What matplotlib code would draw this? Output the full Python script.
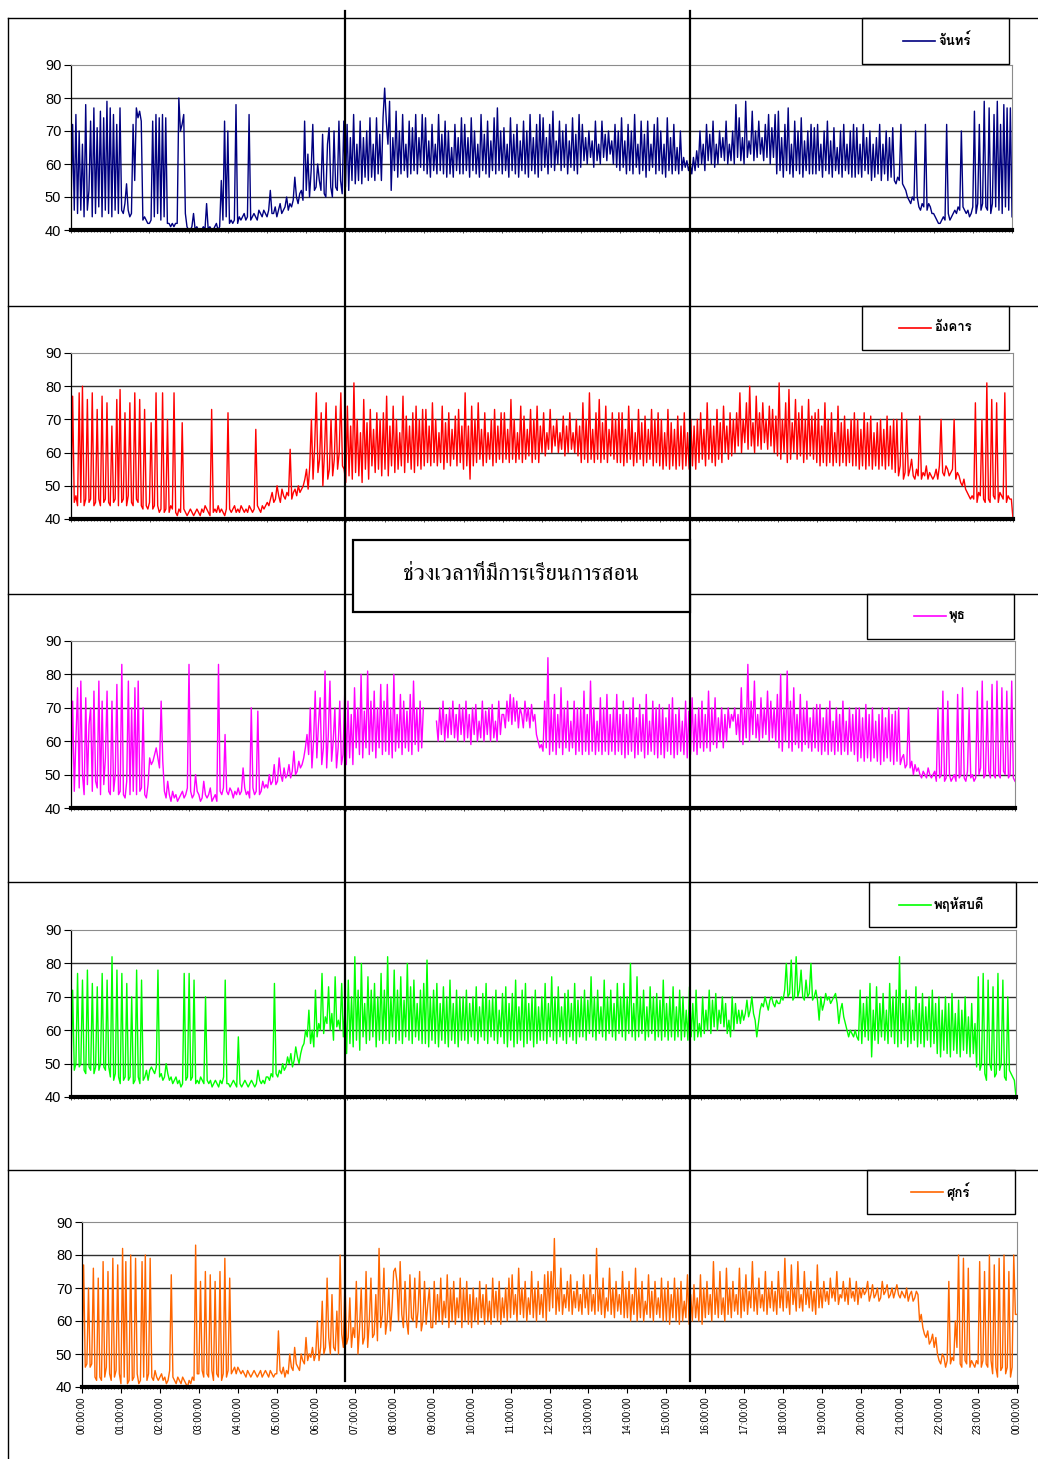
import numpy as np
import matplotlib
matplotlib.use("Agg")
import matplotlib.pyplot as plt
from matplotlib import font_manager
from matplotlib.ft2font import FT2Font
from matplotlib.lines import Line2D
from matplotlib.patches import Rectangle

# Sound level readings every 2.5 minutes, one row per hour, last value is 24:00
mon = [
    47, 72, 46, 75, 45, 70, 46, 66, 44, 78, 46, 52, 73, 44, 77, 45, 71, 47, 76, 44, 74, 46, 79, 45,
    77, 44, 75, 46, 72, 45, 77, 46, 45, 48, 54, 46, 44, 45, 72, 55, 77, 74, 76, 73, 43, 44, 43, 42,
    42, 43, 73, 44, 75, 45, 74, 43, 75, 44, 74, 42, 42, 41, 42, 41, 42, 42, 80, 70, 72, 75, 45, 41,
    40, 40, 41, 45, 40, 41, 40, 40, 40, 41, 40, 48, 40, 41, 40, 40, 41, 42, 40, 41, 55, 43, 73, 44,
    70, 42, 43, 42, 43, 78, 42, 44, 43, 44, 45, 43, 44, 75, 43, 44, 45, 44, 43, 46, 45, 44, 46, 45,
    44, 46, 52, 45, 45, 47, 44, 46, 48, 45, 46, 47, 50, 46, 48, 47, 49, 56, 50, 48, 51, 52, 49, 73,
    52, 63, 50, 58, 72, 52, 53, 60, 55, 52, 69, 51, 50, 66, 71, 53, 50, 70, 53, 52, 73, 55, 51, 73,
    53, 72, 52, 68, 55, 75, 54, 66, 55, 73, 54, 68, 56, 70, 55, 74, 56, 66, 55, 74, 57, 69, 55, 74,
    83, 73, 66, 79, 52, 68, 58, 76, 56, 70, 57, 75, 58, 66, 56, 73, 57, 71, 58, 75, 57, 68, 59, 75,
    58, 74, 57, 67, 56, 72, 58, 66, 57, 75, 58, 69, 57, 73, 56, 70, 57, 65, 56, 72, 58, 68, 57, 74,
    57, 72, 58, 68, 56, 74, 58, 70, 57, 66, 56, 75, 58, 69, 57, 73, 56, 67, 58, 74, 57, 77, 58, 70,
    57, 71, 58, 66, 56, 74, 58, 69, 57, 72, 56, 67, 58, 73, 57, 70, 56, 75, 58, 68, 57, 72, 56, 75,
    58, 74, 59, 68, 57, 72, 59, 76, 58, 67, 60, 73, 58, 70, 59, 72, 57, 67, 59, 74, 58, 69, 57, 75,
    59, 72, 61, 68, 60, 70, 62, 67, 59, 73, 61, 66, 60, 73, 62, 69, 61, 70, 63, 67, 60, 72, 59, 70,
    58, 74, 59, 67, 57, 72, 58, 70, 57, 75, 59, 66, 57, 73, 58, 69, 56, 73, 58, 66, 59, 72, 57, 74,
    58, 70, 57, 66, 56, 74, 58, 68, 57, 72, 58, 65, 57, 70, 58, 62, 59, 61, 58, 60, 57, 62, 58, 64,
    59, 70, 60, 66, 58, 72, 61, 69, 60, 73, 59, 66, 60, 70, 62, 68, 61, 73, 60, 66, 61, 70, 60, 78,
    62, 74, 61, 68, 60, 79, 62, 67, 63, 76, 61, 70, 62, 73, 63, 68, 61, 72, 62, 75, 60, 71, 62, 75,
    57, 76, 58, 68, 56, 72, 58, 77, 57, 66, 56, 73, 58, 70, 57, 74, 56, 67, 58, 70, 57, 72, 57, 71,
    57, 72, 58, 66, 56, 70, 58, 73, 57, 67, 56, 71, 58, 65, 57, 70, 56, 72, 58, 66, 57, 70, 56, 72,
    56, 71, 57, 66, 56, 72, 58, 68, 57, 70, 55, 66, 56, 68, 57, 72, 55, 66, 57, 70, 55, 68, 56, 71,
    55, 54, 56, 55, 72, 54, 53, 52, 50, 49, 48, 50, 49, 70, 50, 47, 46, 48, 47, 72, 46, 48, 47, 45,
    45, 44, 43, 42, 42, 43, 44, 43, 72, 45, 43, 44, 45, 46, 45, 47, 46, 70, 47, 46, 45, 46, 44, 45,
    47, 76, 45, 48, 72, 46, 48, 79, 47, 46, 77, 45, 48, 75, 47, 79, 46, 72, 45, 78, 47, 77, 46, 77,
    44,
]

tue = [
    46, 77, 45, 47, 44, 78, 45, 80, 44, 46, 76, 45, 46, 78, 44, 45, 73, 46, 44, 77, 45, 46, 75, 45,
    44, 68, 45, 46, 76, 44, 79, 45, 46, 72, 44, 47, 75, 45, 44, 78, 46, 45, 76, 44, 43, 73, 44, 43,
    45, 69, 43, 44, 78, 44, 42, 43, 78, 42, 43, 70, 42, 44, 43, 78, 42, 41, 43, 42, 69, 43, 42, 41,
    42, 43, 42, 41, 42, 43, 42, 41, 43, 42, 44, 43, 42, 41, 73, 42, 43, 42, 44, 42, 43, 42, 41, 43,
    72, 43, 42, 43, 44, 42, 43, 42, 44, 43, 42, 43, 42, 44, 43, 42, 43, 67, 44, 43, 42, 44, 43, 44,
    45, 44, 46, 48, 45, 46, 50, 47, 45, 49, 47, 46, 48, 47, 61, 46, 48, 49, 47, 50, 48, 49, 50, 52,
    55, 49, 56, 70, 52, 62, 78, 54, 58, 72, 50, 60, 75, 52, 55, 70, 53, 58, 74, 55, 60, 78, 56, 55,
    51, 74, 53, 68, 52, 81, 54, 70, 53, 66, 51, 76, 55, 69, 52, 73, 56, 67, 54, 72, 55, 70, 53, 72,
    55, 77, 53, 68, 56, 74, 54, 70, 55, 66, 56, 77, 54, 71, 57, 68, 55, 72, 54, 74, 56, 70, 55, 73,
    56, 73, 57, 68, 56, 75, 57, 70, 56, 66, 57, 74, 55, 69, 57, 72, 56, 67, 58, 71, 56, 73, 57, 68,
    55, 78, 56, 68, 52, 74, 56, 70, 57, 75, 58, 67, 56, 72, 57, 66, 58, 70, 56, 73, 57, 68, 58, 72,
    57, 72, 58, 67, 57, 76, 58, 70, 57, 66, 58, 74, 57, 71, 58, 67, 59, 73, 57, 70, 58, 74, 57, 68,
    60, 72, 59, 66, 61, 73, 60, 68, 62, 70, 60, 66, 61, 71, 59, 68, 60, 72, 61, 66, 60, 70, 59, 68,
    57, 75, 58, 70, 57, 78, 58, 67, 57, 72, 58, 76, 57, 69, 58, 74, 57, 67, 59, 72, 58, 70, 57, 72,
    57, 72, 56, 67, 57, 74, 58, 70, 56, 66, 57, 73, 58, 69, 56, 71, 57, 67, 58, 73, 56, 70, 57, 72,
    56, 70, 55, 66, 56, 73, 55, 69, 56, 67, 55, 71, 56, 68, 55, 72, 56, 66, 55, 70, 56, 68, 55, 70,
    57, 72, 58, 67, 56, 75, 58, 70, 57, 68, 56, 73, 58, 69, 57, 74, 60, 68, 58, 72, 59, 70, 60, 72,
    62, 78, 60, 70, 63, 75, 61, 80, 62, 69, 60, 77, 62, 72, 61, 75, 63, 70, 61, 74, 62, 73, 60, 71,
    59, 81, 58, 70, 60, 75, 57, 79, 58, 69, 60, 76, 58, 72, 59, 74, 57, 70, 58, 76, 59, 71, 58, 72,
    57, 73, 56, 68, 57, 75, 56, 70, 57, 72, 56, 66, 57, 74, 56, 69, 57, 71, 56, 67, 57, 70, 56, 72,
    56, 70, 55, 67, 56, 72, 55, 69, 56, 71, 55, 66, 56, 69, 55, 70, 56, 67, 55, 71, 56, 68, 55, 70,
    54, 70, 53, 56, 72, 52, 54, 70, 53, 55, 58, 53, 52, 55, 53, 71, 52, 54, 53, 56, 52, 54, 53, 52,
    53, 55, 52, 56, 70, 54, 53, 56, 55, 53, 54, 55, 70, 52, 54, 53, 51, 50, 52, 49, 48, 47, 46, 47,
    46, 75, 45, 48, 47, 70, 46, 45, 81, 46, 45, 76, 47, 46, 75, 45, 48, 47, 46, 78, 45, 47, 46, 46,
    40,
]

# no readings from 09:00 to about 09:15 on Wednesday
wed = [
    47, 72, 45, 60, 76, 46, 78, 50, 44, 73, 47, 65, 70, 45, 75, 48, 46, 78, 44, 72, 47, 55, 75, 45,
    44, 72, 45, 50, 77, 44, 45, 83, 44, 43, 48, 78, 44, 70, 45, 76, 44, 78, 45, 46, 70, 44, 43, 47,
    55, 53, 54, 56, 58, 55, 52, 72, 54, 45, 43, 48, 44, 42, 45, 43, 44, 42, 43, 44, 45, 43, 44, 46,
    83, 45, 43, 44, 50, 45, 44, 42, 43, 48, 44, 43, 44, 46, 42, 43, 44, 42, 83, 45, 44, 46, 62, 45,
    44, 46, 45, 43, 45, 44, 46, 44, 45, 52, 46, 44, 45, 43, 70, 46, 44, 45, 69, 44, 45, 48, 46, 47,
    46, 50, 47, 48, 53, 47, 48, 55, 50, 48, 52, 49, 50, 53, 49, 51, 57, 50, 51, 54, 52, 53, 55, 58,
    62, 56, 70, 52, 60, 75, 55, 65, 73, 53, 58, 81, 52, 62, 78, 54, 60, 70, 52, 58, 72, 53, 56, 74,
    53, 72, 55, 68, 53, 76, 58, 70, 56, 80, 55, 69, 58, 81, 56, 72, 57, 75, 55, 70, 58, 77, 56, 72,
    57, 77, 56, 70, 55, 80, 57, 68, 58, 74, 56, 72, 58, 69, 57, 74, 56, 78, 59, 70, 57, 72, 58, 70,
    None, None, None, None, None, None, None, 66, 60, 70, 62, 72, 60, 68, 61, 70, 62, 72, 61, 68, 60, 71, 62, 70,
    60, 72, 61, 68, 59, 70, 62, 71, 60, 66, 61, 72, 60, 69, 62, 70, 60, 71, 61, 66, 60, 72, 62, 68,
    68, 64, 72, 66, 74, 65, 73, 66, 72, 64, 70, 68, 64, 72, 66, 70, 64, 71, 66, 68, 62, 60, 58, 59,
    57, 72, 58, 85, 56, 70, 57, 74, 56, 68, 58, 76, 56, 70, 58, 72, 57, 66, 58, 72, 56, 70, 57, 70,
    56, 75, 57, 68, 56, 78, 57, 70, 56, 66, 57, 73, 56, 70, 57, 74, 56, 68, 57, 70, 56, 74, 57, 68,
    56, 72, 55, 68, 56, 70, 57, 73, 55, 67, 56, 71, 57, 68, 55, 74, 56, 66, 57, 72, 56, 70, 55, 71,
    56, 70, 55, 67, 57, 71, 56, 73, 55, 68, 56, 70, 57, 66, 56, 72, 55, 69, 56, 73, 57, 68, 56, 70,
    58, 72, 57, 68, 58, 75, 57, 70, 59, 73, 58, 67, 60, 70, 58, 68, 60, 70, 64, 68, 66, 70, 62, 68,
    60, 76, 59, 70, 61, 83, 60, 72, 62, 78, 61, 68, 60, 73, 61, 70, 62, 75, 60, 72, 61, 70, 60, 74,
    58, 80, 57, 70, 60, 81, 58, 72, 57, 76, 59, 68, 58, 74, 57, 70, 59, 72, 58, 67, 57, 70, 58, 71,
    57, 71, 56, 67, 57, 70, 56, 72, 57, 66, 56, 70, 57, 68, 56, 72, 57, 66, 56, 70, 57, 68, 56, 70,
    54, 70, 55, 67, 54, 71, 55, 68, 54, 70, 55, 66, 54, 68, 53, 70, 54, 67, 55, 70, 54, 68, 53, 69,
    54, 70, 53, 55, 56, 52, 53, 70, 52, 54, 50, 53, 51, 52, 50, 49, 51, 50, 49, 52, 50, 49, 50, 51,
    48, 70, 49, 50, 75, 48, 49, 72, 50, 48, 49, 50, 48, 74, 49, 50, 76, 49, 48, 51, 70, 49, 50, 48,
    49, 75, 50, 52, 78, 49, 50, 72, 51, 49, 77, 50, 49, 78, 50, 49, 76, 51, 50, 75, 49, 50, 78, 49,
    48,
]

thu = [
    49, 72, 48, 50, 77, 49, 50, 75, 48, 47, 78, 49, 48, 74, 47, 49, 73, 48, 50, 77, 49, 48, 75, 49,
    46, 82, 45, 47, 78, 46, 44, 77, 45, 46, 74, 45, 46, 70, 44, 45, 78, 46, 44, 75, 45, 46, 48, 45,
    48, 49, 48, 47, 49, 78, 46, 47, 45, 46, 50, 47, 45, 46, 44, 45, 46, 44, 45, 43, 44, 77, 45, 46,
    77, 45, 46, 75, 44, 45, 44, 46, 45, 44, 70, 45, 44, 45, 43, 44, 45, 44, 43, 45, 44, 46, 75, 44,
    44, 43, 44, 45, 44, 43, 58, 44, 43, 44, 45, 44, 43, 44, 45, 44, 43, 44, 48, 45, 44, 45, 44, 46,
    46, 45, 47, 46, 74, 47, 46, 48, 47, 50, 48, 49, 52, 50, 53, 49, 51, 55, 52, 50, 53, 55, 56, 60,
    58, 66, 56, 60, 55, 72, 58, 62, 60, 77, 59, 64, 62, 73, 60, 65, 57, 76, 61, 63, 60, 74, 58, 66,
    53, 75, 56, 70, 55, 82, 57, 72, 54, 80, 58, 68, 56, 76, 57, 72, 58, 74, 55, 70, 57, 77, 56, 72,
    57, 82, 56, 70, 58, 78, 56, 72, 57, 76, 56, 69, 58, 80, 57, 73, 56, 75, 58, 68, 57, 72, 56, 74,
    56, 81, 55, 70, 57, 72, 56, 74, 55, 68, 57, 73, 56, 70, 55, 75, 57, 68, 56, 72, 55, 70, 57, 70,
    57, 72, 56, 68, 58, 70, 57, 73, 56, 67, 58, 71, 57, 74, 56, 69, 58, 70, 57, 72, 56, 66, 58, 71,
    56, 73, 55, 68, 57, 71, 55, 75, 56, 67, 57, 72, 55, 74, 56, 68, 57, 70, 55, 72, 56, 67, 57, 70,
    57, 74, 56, 68, 58, 76, 57, 70, 56, 73, 58, 67, 57, 71, 56, 72, 58, 68, 57, 74, 56, 69, 58, 70,
    58, 72, 57, 69, 59, 76, 58, 70, 57, 72, 59, 67, 58, 75, 57, 70, 59, 72, 58, 68, 57, 74, 59, 70,
    58, 74, 57, 70, 59, 80, 58, 68, 57, 76, 58, 70, 59, 72, 57, 67, 58, 73, 59, 70, 57, 71, 58, 69,
    57, 75, 58, 68, 57, 70, 58, 73, 57, 67, 58, 72, 57, 70, 58, 66, 57, 73, 58, 68, 57, 72, 58, 62,
    58, 70, 59, 66, 60, 72, 59, 69, 61, 71, 60, 66, 62, 70, 61, 68, 59, 63, 58, 70, 60, 68, 62, 66,
    62, 66, 63, 65, 69, 64, 66, 70, 65, 63, 58, 62, 66, 68, 67, 70, 68, 66, 69, 70, 68, 67, 69, 68,
    68, 70, 69, 72, 80, 70, 71, 81, 69, 70, 82, 70, 72, 78, 70, 69, 75, 70, 71, 80, 69, 70, 72, 69,
    63, 70, 66, 68, 71, 69, 70, 68, 69, 70, 71, 68, 62, 66, 68, 64, 62, 60, 58, 60, 59, 58, 60, 58,
    57, 72, 56, 68, 58, 70, 57, 74, 52, 66, 57, 73, 56, 68, 58, 71, 57, 66, 56, 74, 58, 70, 56, 72,
    55, 82, 56, 68, 57, 72, 55, 70, 56, 66, 57, 73, 55, 68, 56, 71, 55, 67, 57, 70, 55, 72, 56, 68,
    53, 70, 52, 66, 54, 70, 53, 68, 52, 71, 54, 65, 53, 69, 52, 66, 54, 70, 53, 64, 52, 68, 53, 62,
    49, 76, 48, 50, 77, 47, 45, 75, 50, 48, 73, 46, 47, 77, 48, 50, 75, 46, 45, 70, 48, 47, 46, 45,
    40,
]

fri = [
    48, 77, 46, 47, 70, 46, 47, 76, 43, 42, 73, 43, 42, 78, 43, 46, 75, 44, 42, 79, 43, 45, 77, 44,
    41, 82, 43, 78, 41, 42, 80, 42, 43, 79, 44, 41, 42, 78, 43, 80, 42, 44, 79, 43, 42, 45, 43, 42,
    43, 44, 42, 43, 41, 42, 45, 74, 43, 42, 41, 43, 42, 41, 43, 42, 41, 40, 42, 41, 43, 42, 83, 44,
    44, 72, 45, 43, 75, 44, 43, 74, 45, 42, 72, 44, 43, 75, 42, 44, 79, 43, 45, 73, 44, 45, 46, 44,
    46, 45, 44, 45, 44, 43, 45, 44, 43, 44, 45, 44, 43, 44, 45, 43, 44, 45, 44, 43, 45, 44, 43, 44,
    44, 57, 45, 44, 46, 43, 45, 44, 50, 46, 45, 52, 47, 46, 45, 50, 48, 47, 55, 48, 50, 49, 52, 48,
    50, 60, 48, 52, 66, 50, 52, 73, 55, 50, 68, 52, 51, 63, 50, 80, 56, 52, 72, 53, 55, 67, 52, 58,
    55, 72, 50, 58, 70, 53, 55, 75, 52, 60, 73, 55, 56, 68, 54, 82, 58, 62, 76, 56, 60, 70, 57, 64,
    75, 76, 72, 60, 78, 62, 58, 72, 60, 56, 74, 61, 60, 73, 58, 63, 75, 57, 60, 72, 59, 65, 70, 58,
    58, 72, 59, 68, 60, 73, 59, 66, 61, 74, 58, 70, 60, 72, 59, 67, 61, 73, 58, 70, 60, 72, 59, 68,
    58, 70, 60, 67, 59, 72, 61, 68, 59, 71, 60, 66, 59, 73, 61, 69, 60, 72, 59, 67, 61, 70, 60, 73,
    61, 74, 62, 68, 60, 76, 62, 70, 61, 72, 60, 67, 62, 75, 61, 70, 60, 72, 62, 68, 61, 74, 60, 75,
    63, 75, 64, 85, 62, 70, 63, 76, 62, 68, 64, 72, 63, 74, 62, 69, 64, 72, 63, 68, 62, 74, 64, 70,
    62, 74, 63, 68, 62, 82, 63, 70, 62, 73, 61, 67, 63, 76, 62, 70, 61, 72, 63, 68, 62, 75, 61, 70,
    61, 72, 60, 68, 62, 76, 60, 70, 61, 72, 60, 66, 62, 74, 61, 69, 60, 72, 62, 67, 61, 73, 60, 70,
    60, 72, 59, 68, 61, 73, 60, 70, 59, 72, 60, 66, 61, 74, 59, 68, 60, 71, 61, 67, 60, 74, 59, 70,
    61, 72, 62, 68, 60, 78, 62, 70, 61, 75, 62, 67, 60, 76, 62, 70, 61, 72, 63, 68, 62, 76, 61, 70,
    63, 74, 62, 69, 64, 78, 63, 70, 62, 73, 64, 68, 63, 75, 62, 70, 64, 72, 63, 69, 62, 75, 64, 70,
    63, 79, 64, 69, 62, 77, 65, 70, 63, 78, 64, 68, 63, 75, 65, 70, 64, 72, 63, 69, 62, 77, 64, 70,
    64, 72, 66, 69, 65, 73, 67, 70, 66, 75, 65, 68, 67, 72, 66, 70, 65, 73, 67, 69, 66, 72, 65, 70,
    67, 70, 68, 69, 72, 66, 68, 71, 67, 68, 70, 66, 67, 72, 68, 69, 71, 67, 68, 70, 67, 69, 71, 68,
    67, 69, 68, 67, 70, 66, 68, 69, 66, 67, 69, 68, 60, 62, 58, 56, 55, 57, 53, 54, 56, 52, 55, 50,
    48, 47, 50, 49, 46, 48, 72, 47, 49, 48, 60, 52, 80, 47, 46, 79, 48, 47, 76, 46, 48, 47, 46, 48,
    47, 78, 46, 48, 75, 47, 46, 80, 48, 44, 77, 46, 43, 79, 45, 46, 80, 44, 46, 75, 43, 46, 80, 62,
    62,
]

days = ["จันทร์", "อังคาร", "พุธ", "พฤหัสบดี", "ศุกร์"]
series = [mon, tue, wed, thu, fri]
colors = ["#000080", "#FF0000", "#FF00FF", "#00FF00", "#FF6600"]
hour_labels = ["%02d:00:00" % (h % 24) for h in range(25)]
note = "ช่วงเวลาที่มีการเรียนการสอน"

W, H = 1038, 1459


def fx(x):
    return x / W


def fy(y):
    return 1 - y / H


def thai_families():
    # every installed family that has Thai letters in it
    found = []
    for entry in font_manager.fontManager.ttflist:
        try:
            cmap = FT2Font(entry.fname).get_charmap()
        except Exception:
            continue
        if 0x0E08 in cmap and entry.name not in found:
            found.append(entry.name)
    return found


thai = thai_families()
serif_thai = [f for f in thai if "Serif" in f or f in ("Norasi", "Kinnari", "Garuda")]
sans_thai = [f for f in thai if f not in serif_thai]
plt.rcParams["font.family"] = ["Liberation Sans"] + sans_thai + serif_thai + ["DejaVu Sans"]

fig = plt.figure(figsize=(W / 100, H / 100), dpi=100)

# plot areas in pixels: left, top, right, bottom
boxes = [
    (71, 65, 1012, 230),
    (71, 353, 1013, 519),
    (71, 641, 1015, 808),
    (71, 930, 1016, 1097),
    (82, 1222, 1017, 1387),
]
# legend frames and where the sample line starts
legend_boxes = [
    (862, 18, 1009, 64, 903),
    (862, 306, 1009, 350, 899),
    (867, 594, 1014, 639, 914),
    (869, 882, 1016, 927, 899),
    (867, 1170, 1015, 1214, 911),
]

for i, (vals, color, (l, t, r, b)) in enumerate(zip(series, colors, boxes)):
    ax = fig.add_axes([fx(l), fy(b), fx(r) - fx(l), fy(t) - fy(b)])
    y = np.array(vals, dtype=float)
    minutes = np.linspace(0, 1440, len(y))
    for g in (50, 60, 70, 80):
        ax.axhline(g, color="#303030", lw=1.0, zorder=1)
    ax.plot(minutes, y, color=color, lw=1.0, zorder=2)
    ax.set_xlim(0, 1440)
    ax.set_ylim(40, 90)
    ax.set_yticks(range(40, 91, 10))
    ax.tick_params(axis="y", direction="out", length=5, width=0.8, labelsize=10.5, pad=2)
    ax.set_xticks(range(0, 1441, 60))
    ax.set_xticks(range(0, 1441, 5), minor=True)
    ax.tick_params(axis="x", which="minor", direction="out", length=1.5, width=0.5)
    if i == 4:
        ax.set_xticklabels(hour_labels, rotation=90, fontsize=7)
        ax.tick_params(axis="x", which="major", direction="out", length=4, width=0.8, pad=3)
    else:
        ax.set_xticklabels([])
        ax.tick_params(axis="x", which="major", direction="out", length=2, width=0.5)
    ax.spines["top"].set_color("#8c8c8c")
    ax.spines["right"].set_color("#8c8c8c")
    ax.spines["left"].set_linewidth(0.9)
    ax.spines["bottom"].set_linewidth(3.0)

    # legend frame with a short sample line
    lx0, ly0, lx1, ly1, sx = legend_boxes[i]
    fig.add_artist(Rectangle((fx(lx0), fy(ly1)), fx(lx1) - fx(lx0), fy(ly0) - fy(ly1),
                             transform=fig.transFigure, fill=False, ec="black", lw=1.0))
    cy = fy((ly0 + ly1) / 2)
    fig.add_artist(Line2D([fx(sx), fx(sx + 32)], [cy, cy], transform=fig.transFigure,
                          color=color, lw=1.2))
    fig.text(fx(sx + 35), cy, days[i], ha="left", va="center", fontsize=9.5,
             fontweight="bold", family=sans_thai + ["DejaVu Sans"])

# chart frames around each day
for yy in (18, 306, 594, 882, 1170):
    fig.add_artist(Line2D([fx(8), 1.0], [fy(yy), fy(yy)], transform=fig.transFigure,
                          color="black", lw=1.0))
fig.add_artist(Line2D([fx(8), fx(8)], [fy(18), 0.0], transform=fig.transFigure,
                      color="black", lw=1.0))

# teaching hours markers
for xx in (345, 690):
    fig.add_artist(Line2D([fx(xx), fx(xx)], [fy(11), fy(1381)], transform=fig.transFigure,
                          color="black", lw=1.6, zorder=5))

fig.add_artist(Rectangle((fx(353), fy(612)), fx(690) - fx(353), fy(540) - fy(612),
                         transform=fig.transFigure, fc="white", ec="black", lw=1.6, zorder=6))
fig.text(fx(521), fy(574), note, ha="center", va="center", fontsize=16.5, zorder=7,
         family=serif_thai + sans_thai + ["DejaVu Sans"])

fig.savefig("out.png", dpi=100)
